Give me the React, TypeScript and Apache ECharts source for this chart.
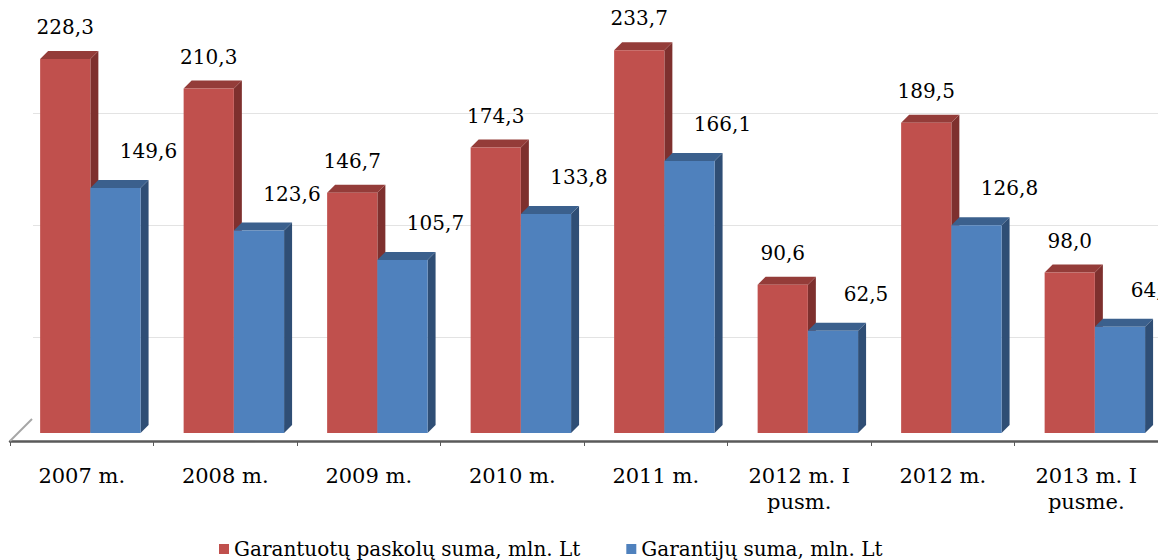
import React, { useEffect, useRef } from "react";
import * as echarts from "echarts";

const categories = [
  "2007 m.",
  "2008 m.",
  "2009 m.",
  "2010 m.",
  "2011 m.",
  "2012 m. I\npusm.",
  "2012 m.",
  "2013 m. I\npusme.",
];
const loanValues = [228.3, 210.3, 146.7, 174.3, 233.7, 90.6, 189.5, 98.0];
const guaranteeValues = [149.6, 123.6, 105.7, 133.8, 166.1, 62.5, 126.8, 64.9];
const seriesNames = ["Garantuotų paskolų suma, mln. Lt", "Garantijų suma, mln. Lt"];

const RED = { front: "#C0504D", top: "#943C39", side: "#7E302E" };
const BLUE = { front: "#4F81BD", top: "#3B608D", side: "#2F4E75" };

const FONT = "'DejaVu Serif', 'Liberation Serif', serif";

function make3D(seriesIdx: number, colors: { front: string; top: string; side: string }) {
  return (_params: any, api: any) => {
    const idx = api.value(0);
    const val = api.value(1);
    const top = api.coord([idx, val]);
    const base = api.coord([idx, 0]);
    const band = api.size([1, 0])[0];
    const w = band * 0.35;
    const x = top[0] - band * 0.29 + seriesIdx * w;
    const yT = top[1];
    const yB = base[1];
    const dx = 8;
    const dy = 8;
    const label = Number(val).toFixed(1).replace(".", ",");
    const lx = seriesIdx === 0 ? x + w / 2 : x + w / 2 + 33;
    const ly = yT - (seriesIdx === 0 ? 32 : 37);
    return {
      type: "group",
      children: [
        {
          type: "polygon",
          shape: { points: [[x + w, yT], [x + w + dx, yT - dy], [x + w + dx, yB - dy], [x + w, yB]] },
          style: { fill: colors.side },
        },
        {
          type: "polygon",
          shape: { points: [[x, yT], [x + dx, yT - dy], [x + w + dx, yT - dy], [x + w, yT]] },
          style: { fill: colors.top },
        },
        {
          type: "rect",
          shape: { x, y: yT, width: w, height: yB - yT },
          style: { fill: colors.front },
        },
        {
          type: "text",
          x: lx,
          y: ly,
          style: {
            text: label,
            fill: "#000",
            font: `20px ${FONT}`,
            align: "center",
            verticalAlign: "middle",
          },
        },
      ],
    };
  };
}

export default function App() {
  const ref = useRef<HTMLDivElement>(null);
  useEffect(() => {
    if (!ref.current) return;
    const chart = echarts.init(ref.current, undefined, { renderer: "svg" });
    chart.setOption({
      animation: false,
      backgroundColor: "#fff",
      grid: [
        { left: 10, right: 0, top: 0, bottom: 127, containLabel: false },
        { left: 33, right: 0, top: 113, bottom: 223, containLabel: false },
      ],
      xAxis: [
        {
          type: "category",
          gridIndex: 0,
          data: categories,
          offset: 8,
          boundaryGap: true,
          axisLine: { show: true, onZero: false, lineStyle: { color: "#5a5a5a", width: 2.5 } },
          axisTick: { show: true, length: 5, lineStyle: { color: "#5a5a5a", width: 1 } },
          axisLabel: {
            margin: 22,
            color: "#000",
            fontFamily: FONT,
            fontSize: 21,
            lineHeight: 26,
            interval: 0,
          },
          splitLine: { show: false },
        },
        { type: "value", gridIndex: 1, show: false, min: 0, max: 1 },
      ],
      yAxis: [
        { type: "value", gridIndex: 0, min: 0, max: 264.4, show: false },
        {
          type: "value",
          gridIndex: 1,
          min: 0,
          max: 2,
          interval: 1,
          axisLine: { show: false },
          axisTick: { show: false },
          axisLabel: { show: false },
          splitLine: { show: true, lineStyle: { color: "#e3e3e3", width: 1 } },
        },
      ],
      legend: {
        left: 219,
        top: 539,
        padding: 0,
        icon: "rect",
        itemWidth: 10,
        itemHeight: 10,
        itemGap: 46,
        textStyle: { color: "#000", fontFamily: FONT, fontSize: 20, lineHeight: 18 },
        data: [
          { name: seriesNames[0], itemStyle: { color: RED.front } },
          { name: seriesNames[1], itemStyle: { color: BLUE.front } },
        ],
      },
      graphic: [
        {
          type: "line",
          shape: { x1: 10, y1: 441, x2: 32, y2: 419 },
          style: { stroke: "#a6a6a6", lineWidth: 2 },
          z: 1,
        },
      ],
      series: [
        {
          name: seriesNames[0],
          type: "custom",
          xAxisIndex: 0,
          yAxisIndex: 0,
          itemStyle: { color: RED.front },
          renderItem: make3D(0, RED),
          data: loanValues.map((v, i) => [i, v]),
          z: 3,
        },
        {
          name: seriesNames[1],
          type: "custom",
          xAxisIndex: 0,
          yAxisIndex: 0,
          itemStyle: { color: BLUE.front },
          renderItem: make3D(1, BLUE),
          data: guaranteeValues.map((v, i) => [i, v]),
          z: 4,
        },
      ],
    });
    return () => chart.dispose();
  }, []);
  return (
    <div style={{ position: "absolute", left: 0, top: 0, width: 1158, height: 560, overflow: "hidden", background: "#fff" }}>
      <div ref={ref} style={{ width: 1158, height: 560 }} />
    </div>
  );
}
